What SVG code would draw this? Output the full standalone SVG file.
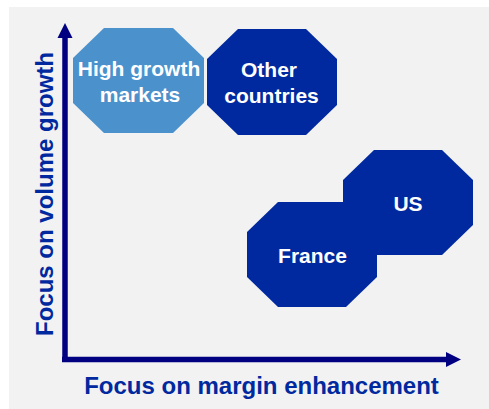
<svg xmlns="http://www.w3.org/2000/svg" width="489" height="409" viewBox="0 0 489 409">
<style>
.oct{stroke:none}
.light{fill:#4b92cd}
.dark{fill:#00299f}
.nt{font-family:"Liberation Sans",Arial,sans-serif;font-weight:bold;font-size:21px;fill:#ffffff;text-anchor:middle}
.ax{font-family:"Liberation Sans",Arial,sans-serif;font-weight:bold;font-size:24px;fill:#00299f;text-anchor:middle}
.axis{stroke:#000080;stroke-width:5.5;fill:none}
.head{fill:#000080}
</style>
<rect x="0" y="0" width="489" height="409" fill="#ffffff"/>
<rect x="9" y="7" width="480" height="402" fill="#f2f2f2"/>
<g id="connectors">
<line class="axis" x1="65" y1="36" x2="65" y2="362"/>
<polygon class="head" points="65,23 57.5,38 72.5,38"/>
<line class="axis" x1="62" y1="359.5" x2="448" y2="359.5"/>
<polygon class="head" points="461,359.5 446,352 446,367"/>
</g>
<g id="high-growth">
<polygon class="oct light" points="104,28 173,28 204,58 204,103 173,133 104,133 73,103 73,58"/>
<text class="nt" x="139" y="76">High growth</text>
<text class="nt" x="140" y="102">markets</text>
</g>
<g id="other-countries">
<polygon class="oct dark" points="238,29 306,29 337,59 337,105 306,135 238,135 207,105 207,59"/>
<text class="nt" x="269" y="77">Other</text>
<text class="nt" x="271.5" y="103">countries</text>
</g>
<g id="us">
<polygon class="oct dark" points="374,150 442,150 473,180 473,225 442,255 374,255 343,225 343,180"/>
<text class="nt" x="408" y="211">US</text>
</g>
<g id="france">
<polygon class="oct dark" points="278,202 346,202 377,232 377,277 346,307 278,307 247,277 247,232"/>
<text class="nt" x="312.5" y="263">France</text>
</g>
<g id="axis-labels">
<text class="ax" x="261.5" y="394">Focus on margin enhancement</text>
<text class="ax" transform="translate(53,194) rotate(-90)" x="0" y="0">Focus on volume growth</text>
</g>
</svg>
